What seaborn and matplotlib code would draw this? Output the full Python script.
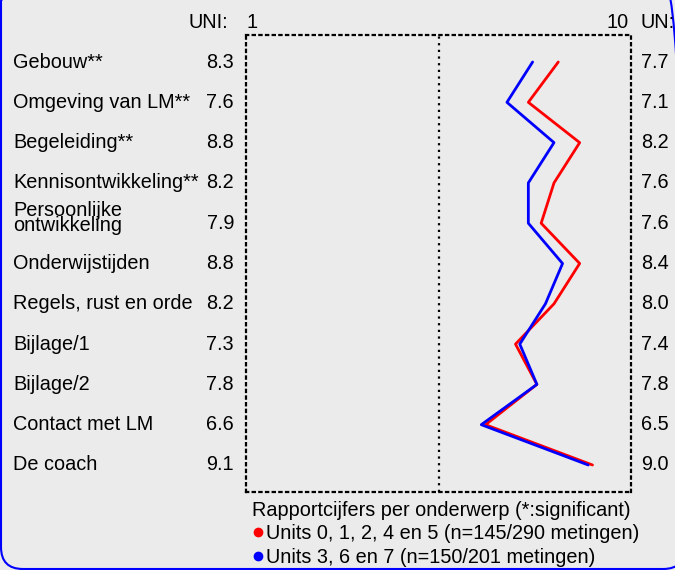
import numpy as np
import pandas as pd
import matplotlib.pyplot as plt
import matplotlib.transforms as mtransforms
from matplotlib.lines import Line2D
from matplotlib.patches import FancyBboxPatch
import seaborn as sns

onderwerpen = ["Gebouw**", "Omgeving van LM**", "Begeleiding**", "Kennisontwikkeling**",
               "Persoonlijke\nontwikkeling", "Onderwijstijden", "Regels, rust en orde",
               "Bijlage/1", "Bijlage/2", "Contact met LM", "De coach"]
uni = [8.3, 7.6, 8.8, 8.2, 7.9, 8.8, 8.2, 7.3, 7.8, 6.6, 9.1]
un = [7.7, 7.1, 8.2, 7.6, 7.6, 8.4, 8.0, 7.4, 7.8, 6.5, 9.0]
groepen = ["Units 0, 1, 2, 4 en 5 (n=145/290 metingen)", "Units 3, 6 en 7 (n=150/201 metingen)"]
kleuren = ["#ff0000", "#0000ff"]
titel = "Rapportcijfers per onderwerp (*:significant)"

bg = "#ebebeb"
sns.set_style("white", {"axes.facecolor": bg, "figure.facecolor": bg})
plt.rcParams['font.family'] = ['Liberation Sans', 'DejaVu Sans']
plt.rcParams['text.color'] = 'black'
fs = 14.3

pos = np.arange(len(onderwerpen))
df = pd.concat([
    pd.DataFrame({"score": uni, "pos": pos, "groep": groepen[0]}),
    pd.DataFrame({"score": un, "pos": pos, "groep": groepen[1]}),
])

W, H = 675, 570
fig = plt.figure(figsize=(W / 100, H / 100), dpi=100)
ax = fig.add_axes([246 / W, 1 - 492 / H, (631 - 246) / W, (492 - 35) / H])

sns.lineplot(data=df, x="score", y="pos", hue="groep", palette=kleuren, sort=False,
             orient="y", estimator=None, legend=False, lw=2, ax=ax)

ax.set_xlim(1, 10)
ax.set_ylim(10.67, -0.67)
ax.set_xticks([])
ax.set_yticks([])
ax.set_xlabel("")
ax.set_ylabel("")
for s in ax.spines.values():
    s.set_visible(True)
    s.set_linestyle((0, (1, 2)))
    s.set_linewidth(1.6)
    s.set_color("black")
ax.axvline(5.5, color="black", lw=1.6, ls=(0, (1, 2)))

# labels links en rechts
tr = mtransforms.blended_transform_factory(fig.transFigure, ax.transData)
for i, lab in enumerate(onderwerpen):
    if "\n" in lab:
        ax.annotate(lab, (13 / W, i), xycoords=tr, xytext=(0, -8.5), textcoords="offset points",
                    ha="left", va="bottom", fontsize=fs, linespacing=0.75)
    else:
        ax.text(13 / W, i, lab, transform=tr, ha="left", va="center", fontsize=fs)
    ax.text(234 / W, i, f"{uni[i]:.1f}", transform=tr, ha="right", va="center", fontsize=fs)
    ax.text(641 / W, i, f"{un[i]:.1f}", transform=tr, ha="left", va="center", fontsize=fs)

ytop = 1 - 23 / H
fig.text(228 / W, ytop, "UNI:", ha="right", va="center", fontsize=fs)
fig.text(246 / W, ytop, "1", ha="left", va="center", fontsize=fs)
fig.text(629 / W, ytop, "10", ha="right", va="center", fontsize=fs)
fig.text(640 / W, ytop, "UN:", ha="left", va="center", fontsize=fs)

handles = [Line2D([], [], marker="o", ls="", color=c, markersize=6) for c in kleuren]
ax.legend(handles, groepen, title=titel, loc="upper left", bbox_to_anchor=(252 / W, 1 - 501 / H),
          bbox_transform=fig.transFigure, frameon=False, handletextpad=0.1, handlelength=0.6,
          borderpad=0, borderaxespad=0, labelspacing=0.22, fontsize=fs, title_fontsize=fs,
          alignment="left")

rand = FancyBboxPatch((1, 1), 684, 590, boxstyle="round,pad=0,rounding_size=22",
                      transform=mtransforms.IdentityTransform(), fill=False,
                      edgecolor="#0000ff", lw=1.5)
fig.add_artist(rand)

fig.savefig("out.png", dpi=100, facecolor=bg)
